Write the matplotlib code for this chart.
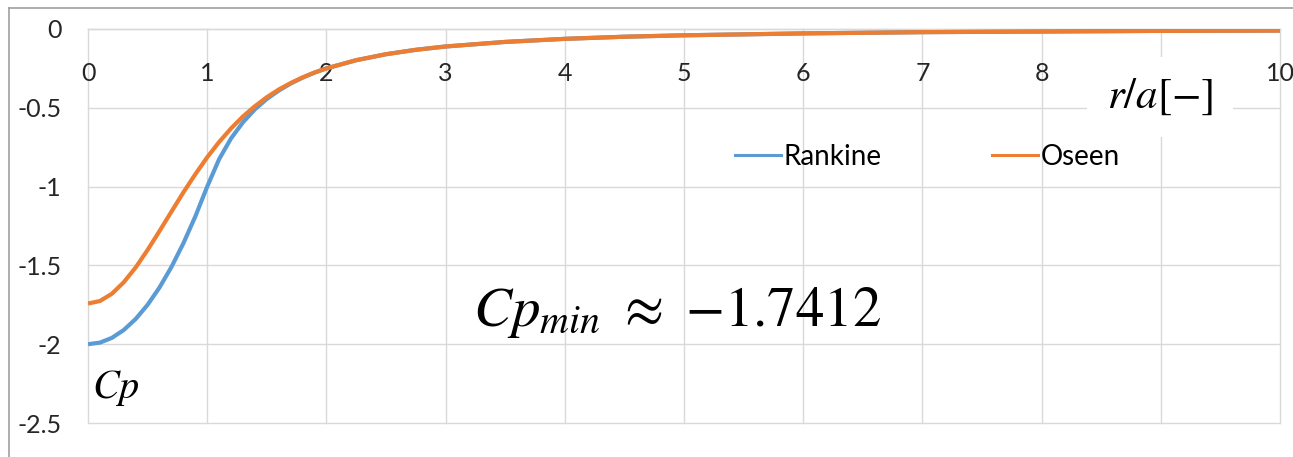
import numpy as np
import matplotlib
matplotlib.use("Agg")
import matplotlib.pyplot as plt
from matplotlib.lines import Line2D

plt.rcParams['font.family'] = ['Lato', 'DejaVu Sans']
plt.rcParams['mathtext.fontset'] = 'stix'

# r/a samples and pressure coefficient of both vortex models
r_rankine = [0, 0.1, 0.2, 0.3, 0.4, 0.5, 0.6, 0.7, 0.8, 0.9, 1.0,
             1.1, 1.2, 1.3, 1.4, 1.5, 1.6, 1.7, 1.8, 1.9, 2.0,
             2.25, 2.5, 2.75, 3, 3.5, 4, 4.5, 5, 6, 7, 8, 9, 10]
cp_rankine = [-2.0, -1.99, -1.96, -1.91, -1.84, -1.75, -1.64, -1.51, -1.36, -1.19, -1.0,
              -0.826, -0.694, -0.592, -0.510, -0.444, -0.391, -0.346, -0.309, -0.277, -0.25,
              -0.198, -0.16, -0.132, -0.111, -0.082, -0.0625, -0.049, -0.04, -0.028, -0.020, -0.016, -0.012, -0.01]

r_oseen = [0, 0.1, 0.2, 0.3, 0.4, 0.5, 0.6, 0.7, 0.8, 0.9, 1.0,
           1.1, 1.2, 1.3, 1.4, 1.5, 1.6, 1.7, 1.8, 1.9, 2.0,
           2.25, 2.5, 2.75, 3, 3.5, 4, 4.5, 5, 6, 7, 8, 9, 10]
cp_oseen = [-1.742, -1.726, -1.680, -1.607, -1.513, -1.402, -1.282, -1.159, -1.037, -0.922, -0.814,
            -0.717, -0.631, -0.555, -0.490, -0.433, -0.384, -0.343, -0.307, -0.276, -0.250,
            -0.198, -0.16, -0.132, -0.111, -0.082, -0.0625, -0.049, -0.04, -0.028, -0.020, -0.016, -0.012, -0.01]

# the "9" label sits under the axis title box, so it is left blank
x_ticks = [0, 1, 2, 3, 4, 5, 6, 7, 8, 9, 10]
x_labels = ["0", "1", "2", "3", "4", "5", "6", "7", "8", "", "10"]
y_ticks = [0, -0.5, -1, -1.5, -2, -2.5]
y_labels = ["0", "-0.5", "-1", "-1.5", "-2", "-2.5"]

blue = "#5b9bd5"
orange = "#ed7d31"
grid_c = "#d9d9d9"

fig = plt.figure(figsize=(12.93, 4.57), dpi=100)
ax = fig.add_axes([88 / 1293, 1 - 423 / 457, (1280 - 88) / 1293, (423 - 29) / 457])

# horizontal axis crosses at Cp = 0 (moving the spine resets ticks, so do it first)
for s in ['left', 'right', 'top']:
    ax.spines[s].set_visible(False)
ax.spines['bottom'].set_position(('data', 0))
ax.spines['bottom'].set_color(grid_c)
ax.spines['bottom'].set_linewidth(1.0)

ax.plot(r_rankine, cp_rankine, color=blue, lw=3.0, solid_capstyle='butt', zorder=3)
ax.plot(r_oseen, cp_oseen, color=orange, lw=3.0, solid_capstyle='butt', zorder=4)

ax.set_xlim(0, 10)
ax.set_ylim(-2.5, 0)
ax.set_xticks(x_ticks)
ax.set_xticklabels(x_labels, fontsize=18, color="#262626")
ax.set_yticks(y_ticks)
ax.set_yticklabels(y_labels, fontsize=18, color="#262626")
ax.tick_params(axis='both', length=0)
ax.tick_params(axis='x', pad=24)
ax.tick_params(axis='y', pad=19)

ax.grid(True, color=grid_c, lw=1.0, zorder=0)
ax.set_axisbelow(True)
for gl in ax.get_xgridlines() + ax.get_ygridlines():
    gl.set_clip_on(False)

# legend
handles = [Line2D([], [], color=blue, lw=2.2), Line2D([], [], color=orange, lw=2.2)]
ax.legend(handles, ["Rankine", "Oseen"], ncol=2, frameon=False, fontsize=20,
          loc='center left', bbox_to_anchor=(735 / 1293, 1 - 157 / 457),
          bbox_transform=fig.transFigure, handlelength=1.65, handletextpad=0.08,
          columnspacing=4.0, borderaxespad=0, borderpad=0)

# annotations
fig.text(1160 / 1293, 1 - 97 / 457, r"$r/a[-]$", fontsize=31, ha='center', va='center',
         bbox=dict(facecolor='white', edgecolor='none', pad=14), zorder=5)
fig.text(677 / 1293, 1 - 313 / 457, r"$Cp_{min}\ \approx\ {-}1.7412$", fontsize=41,
         ha='center', va='center')
fig.text(92 / 1293, 1 - 388 / 457, r"$Cp$", fontsize=29, ha='left', va='center')

# outer chart frame
frame_c = "#a0a0a0"
fig.add_artist(Line2D([9 / 1293, 9 / 1293], [0, 1 - 8 / 457], color=frame_c, lw=1.2,
                      transform=fig.transFigure))
fig.add_artist(Line2D([9 / 1293, 1], [1 - 8 / 457, 1 - 8 / 457], color=frame_c, lw=1.2,
                      transform=fig.transFigure))

fig.savefig("out.png", dpi=100)
